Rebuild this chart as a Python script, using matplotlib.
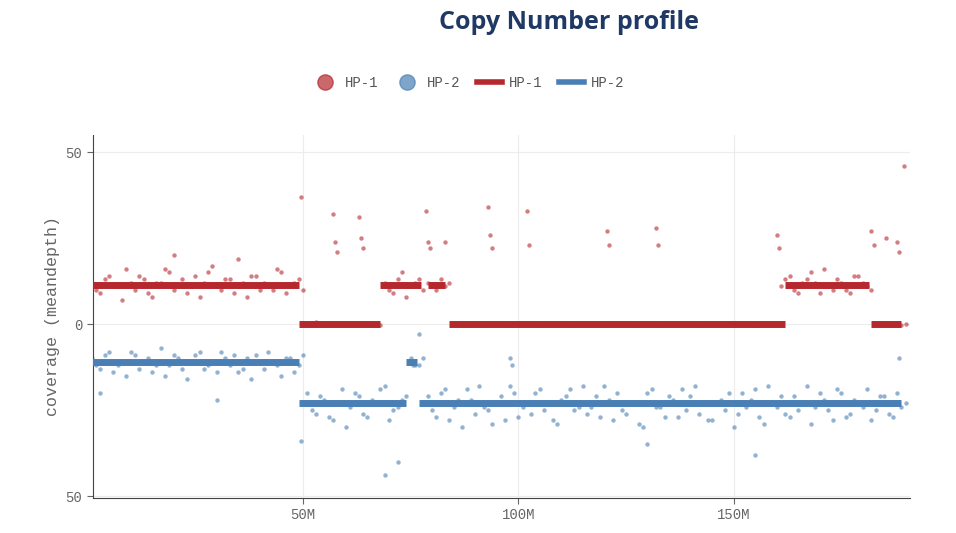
"""Copy Number profile — HP-1 / HP-2 coverage along the chromosome."""
import numpy as np
import matplotlib
matplotlib.use("Agg")
import matplotlib.pyplot as plt
from matplotlib.lines import Line2D
from matplotlib.ticker import FuncFormatter

RED = "#b5282e"
BLUE = "#4a7fb5"

# bin centres (Mb); two readings per bin
bins = np.arange(1, 190, 2)
bins_b = bins + 1

hp1_a = [12, 9, 14, 11, 16, 10, 13, 8, 12, 15, 11, 9, 14, 12, 17, 10, 13, 11, 8, 14, 12, 10, 15, 11,
         13,
         0, 0.5, -0.3, 0, 0.2, 0, -0.4, 0.3, 0,
         12, 9, 15, 11, 13,
         12, 10, 11,
         0, 0.2, -0.3, 0, 0.4, 0, -0.2, 0, 0.3, 0, -0.4, 0, 0.2, 0, 0, -0.3, 0.2, 0, 0, 0.3,
         0, -0.2, 0, 0.4, 0, 0, -0.3, 0, 0.2, 0, 0, -0.2, 0.3, 0, 0, -0.3, 0.2, 0,
         11, 14, 9, 13, 12, 16, 10, 12, 9, 14, 11,
         0, 0.3, 0, -0.2]
hp1_b = [10, 13, 11, 7, 12, 14, 9, 12, 16, 10, 13, 11, 8, 15, 11, 13, 9, 12, 14, 10, 11, 16, 9, 12,
         10,
         0.2, 0, 0, -0.2, 0, 0.3, 0, 0, -0.2,
         10, 13, 8, 12, 10,
         11, 13, 12,
         0.2, 0, 0, -0.2, 0, 0.3, 0, 0, -0.3, 0, 0.2, 0, 0, -0.2, 0.3, 0, 0, -0.2, 0, 0,
         0.3, 0, 0, -0.2, 0, 0.2, 0, 0, -0.3, 0, 0.2, 0, 0, 0.3, 0, -0.2, 0, 0,
         13, 10, 12, 15, 9, 11, 13, 10, 14, 12, 10,
         0, -0.3, 0.2, 0]

hp2_a = [-10, -13, -8, -12, -15, -9, -11, -14, -7, -12, -10, -16, -9, -13, -11, -8, -12, -14, -10, -9, -13, -11, -15, -10,
         -12,
         -20, -26, -22, -28, -19, -24, -21, -27, -23, -18, -25, -22,
         -11, -12,
         -21, -27, -19, -24, -30, -22, -18, -25, -23, -28, -20, -24, -26, -19, -23, -29, -21, -25,
         -18, -24, -27, -22, -20, -26, -23, -30, -19, -24, -21, -27, -25, -18, -23, -28, -22, -20,
         -26, -24, -19, -29, -23, -21, -27, -25, -18, -24, -22, -28, -20, -26, -23, -19, -25, -21,
         -27, -24]
hp2_b = [-12, -9, -14, -11, -8, -13, -10, -12, -15, -9, -13, -11, -8, -12, -14, -10, -9, -13, -16, -11, -8, -12, -10, -14,
         -9,
         -25, -21, -27, -23, -30, -20, -26, -22, -19, -28, -24, -21,
         -12, -10,
         -25, -20, -28, -22, -19, -26, -24, -29, -21, -18, -27, -23, -20, -25, -28, -22, -19, -24,
         -26, -21, -18, -28, -25, -23, -29, -20, -24, -27, -22, -19, -21, -26, -28, -23, -25, -30,
         -20, -22, -27, -18, -24, -26, -21, -23, -29, -20, -25, -19, -27, -22, -24, -28, -21, -26,
         -20, -23]

# outlier reads
out1_x = [57, 57.5, 58, 63, 63.5, 64, 78.5, 79, 79.5, 83, 93, 93.5, 94, 102, 102.5, 120.5, 121, 132, 132.5,
          160, 160.5, 182, 182.5, 185.5, 188, 188.5, 189.5, 49.5, 20, 35]
out1_y = [32, 24, 21, 31, 25, 22, 33, 24, 22, 24, 34, 26, 22, 33, 23, 27, 23, 28, 23,
          26, 22, 27, 23, 25, 24, 21, 46, 37, 20, 19]
out2_x = [49.5, 75, 75.5, 77, 72, 69, 98, 98.5, 130, 155, 188.5, 3, 30]
out2_y = [-34, -10, -12, -3, -40, -44, -10, -12, -35, -38, -10, -20, -22]

# segment calls: (start Mb, end Mb, level)
hp1_segs = [(1, 49, 11.5), (49, 68, 0), (68, 77.5, 11.5), (79, 83, 11.5), (84, 162, 0),
            (162, 181.5, 11.5), (182, 189, 0)]
hp2_segs = [(1, 49, -11), (49, 74, -23), (74, 76.5, -11), (77, 189, -23)]

fig = plt.figure(figsize=(9.56, 5.33), dpi=100)
ax = fig.add_axes([0.097, 0.066, 0.855, 0.681])
mono = "Liberation Mono"

for xs, ys, c in [(bins, hp1_a, RED), (bins_b, hp1_b, RED), (out1_x, out1_y, RED),
                  (bins, hp2_a, BLUE), (bins_b, hp2_b, BLUE), (out2_x, out2_y, BLUE)]:
    ax.scatter(xs, ys, s=10, color=c, alpha=0.6, linewidths=0, zorder=2)
for s, e, v in hp2_segs:
    ax.plot([s, e], [v, v], color=BLUE, lw=5, solid_capstyle="butt", zorder=3)
for s, e, v in hp1_segs:
    ax.plot([s, e], [v, v], color=RED, lw=5, solid_capstyle="butt", zorder=4)

ax.set_xlim(1.2, 191)
ax.set_ylim(-50.5, 55)
ax.set_xticks([50, 100, 150])
ax.xaxis.set_major_formatter(FuncFormatter(lambda v, _: f"{v:.0f}M"))
ax.set_yticks([-50, 0, 50])
ax.yaxis.set_major_formatter(FuncFormatter(lambda v, _: f"{abs(v):.0f}"))
ax.grid(True, color="#ececec", lw=0.8)
ax.set_axisbelow(True)
for sp in ["top", "right"]:
    ax.spines[sp].set_visible(False)
for sp in ["left", "bottom"]:
    ax.spines[sp].set_color("#444444")
ax.tick_params(colors="#666666", labelsize=10, length=4)
for lab in ax.get_xticklabels() + ax.get_yticklabels():
    lab.set_family(mono)
ax.set_ylabel("coverage (meandepth)", family=mono, color="#666666", fontsize=12)

handles = [Line2D([], [], marker="o", ls="", color=RED, alpha=0.7, ms=11),
           Line2D([], [], marker="o", ls="", color=BLUE, alpha=0.7, ms=11),
           Line2D([], [], color=RED, lw=4),
           Line2D([], [], color=BLUE, lw=4)]
fig.legend(handles, ["HP-1", "HP-2", "HP-1", "HP-2"], loc="center", bbox_to_anchor=(0.49, 0.845),
           ncol=4, frameon=False, prop={"family": mono, "size": 10}, labelcolor="#555555",
           handlelength=1.8, columnspacing=1.2, handletextpad=0.5)
fig.text(0.595, 0.958, "Copy Number profile", ha="center", va="center", fontsize=18,
         fontweight="bold", color="#1f3864", family="Open Sans")
fig.savefig("out.png")
